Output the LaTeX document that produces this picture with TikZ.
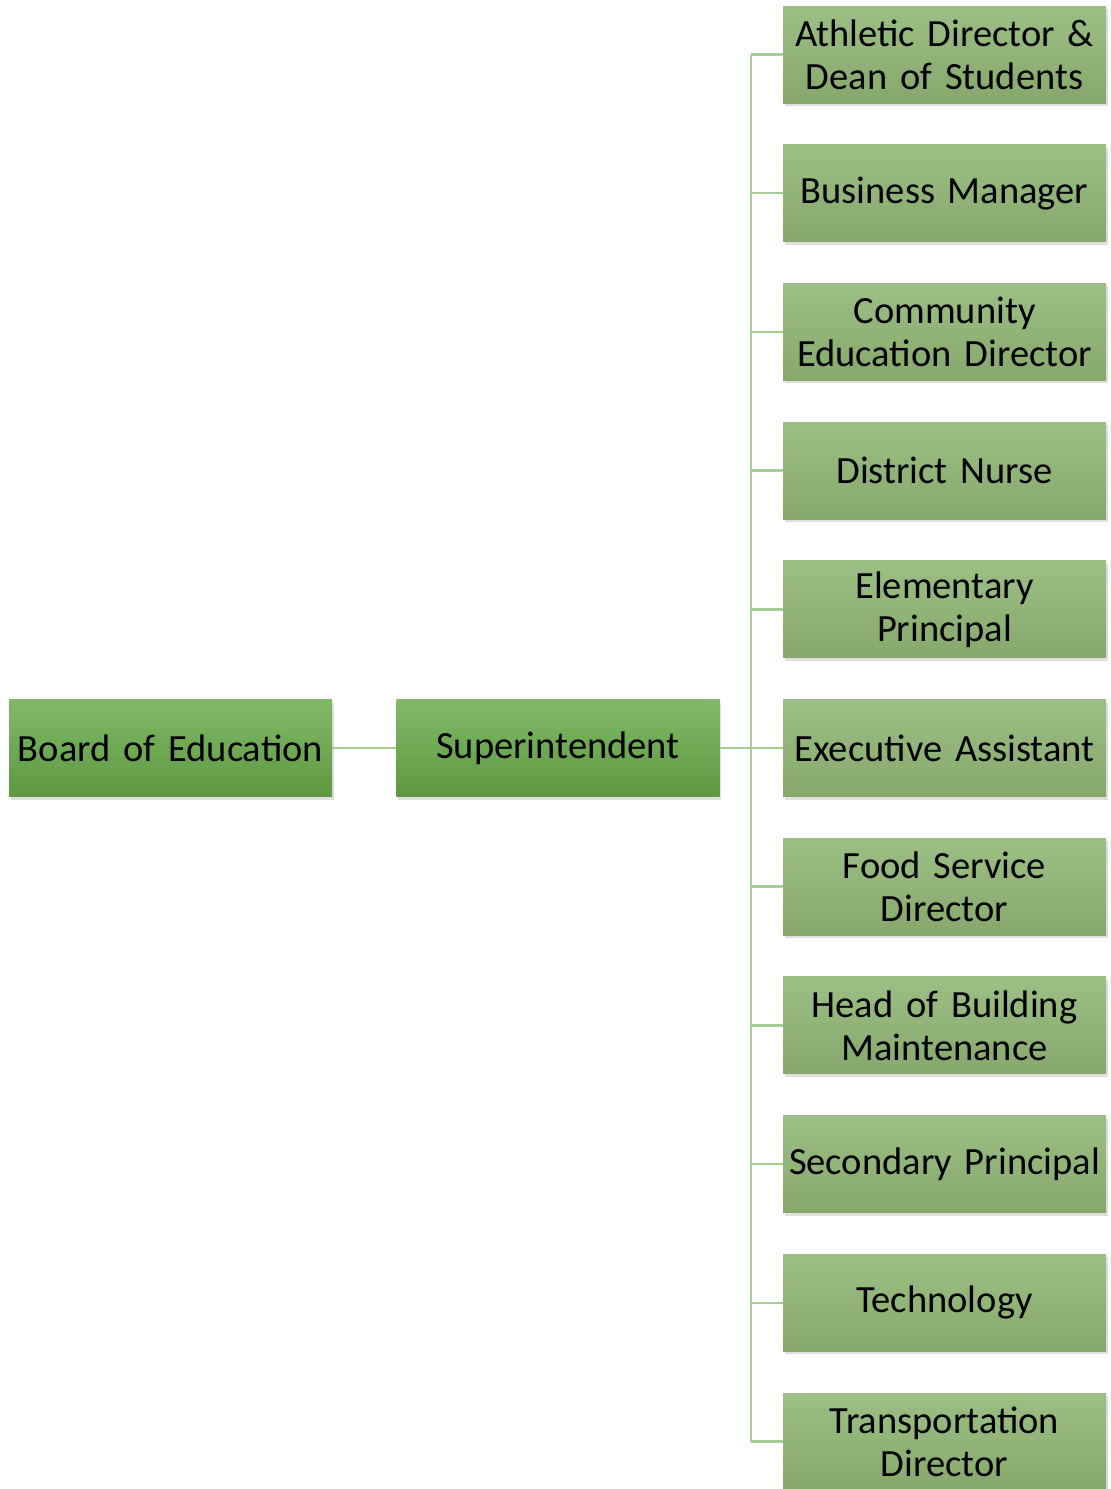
\documentclass[tikz,border=0pt]{standalone}
\usepackage{fontspec}
\setmainfont{Carlito}
\usetikzlibrary{shadows}
\definecolor{boardtop}{RGB}{128,186,104}
\definecolor{boardbot}{RGB}{94,152,64}
\definecolor{stafftop}{RGB}{156,191,133}
\definecolor{staffbot}{RGB}{134,168,108}
\definecolor{busline}{RGB}{168,204,150}
\tikzset{
  topbox/.style={rectangle, minimum width=323, minimum height=97, inner sep=0pt,
    text width=323, align=center, top color=boardtop, bottom color=boardbot,
    drop shadow={shadow xshift=1.5pt, shadow yshift=-3pt, opacity=0.25},
    font=\fontsize{38.5}{43}\selectfont},
  staffbox/.style={topbox, top color=stafftop, bottom color=staffbot},
  link/.style={draw=busline, line width=2.5pt}
}
\begin{document}
\begin{tikzpicture}[x=1pt, y=-1pt]
			%%%%% START %%%%%
			\useasboundingbox (0, 0) rectangle (1111, 1489);
			
			\node[topbox] (board) at (170.5, 748) {Board of Education};
			\node[topbox] (super) at (558, 748) {Superintendent};
			
			\node[staffbox] (athletic) at (944.5, 54.5) {Athletic Director \&\\Dean of Students};
			\node[staffbox] (business) at (944.5, 193.2) {Business Manager};
			\node[staffbox] (community) at (944.5, 331.9) {Community\\Education Director};
			\node[staffbox] (nurse) at (944.5, 470.6) {District Nurse};
			\node[staffbox] (elem) at (944.5, 609.3) {Elementary\\Principal};
			\node[staffbox] (exec) at (944.5, 748) {Executive Assistant};
			\node[staffbox] (food) at (944.5, 886.7) {Food Service\\Director};
			\node[staffbox] (maint) at (944.5, 1025.4) {Head of Building\\Maintenance};
			\node[staffbox] (second) at (944.5, 1164.1) {Secondary Principal};
			\node[staffbox] (tech) at (944.5, 1302.8) {Technology};
			\node[staffbox] (transport) at (944.5, 1441.5) {Transportation\\Director};
			
			\coordinate (bustop) at (751, 54.5);
			\coordinate (busbot) at (751, 1441.5);
			
			\draw[link] (board.east) -- (super.west);
			\draw[link] (super.east) -- (exec.west);
			\draw[link] (bustop) -- (busbot);
			\draw[link] (bustop) -- (athletic.west);
			\draw[link] (busbot) -- (transport.west);
			\draw[link] (business.west) -- (business.west -| bustop);
			\draw[link] (community.west) -- (community.west -| bustop);
			\draw[link] (nurse.west) -- (nurse.west -| bustop);
			\draw[link] (elem.west) -- (elem.west -| bustop);
			\draw[link] (food.west) -- (food.west -| bustop);
			\draw[link] (maint.west) -- (maint.west -| bustop);
			\draw[link] (second.west) -- (second.west -| bustop);
			\draw[link] (tech.west) -- (tech.west -| bustop);
			
			%%%%% END %%%%%
\end{tikzpicture}
\end{document}
